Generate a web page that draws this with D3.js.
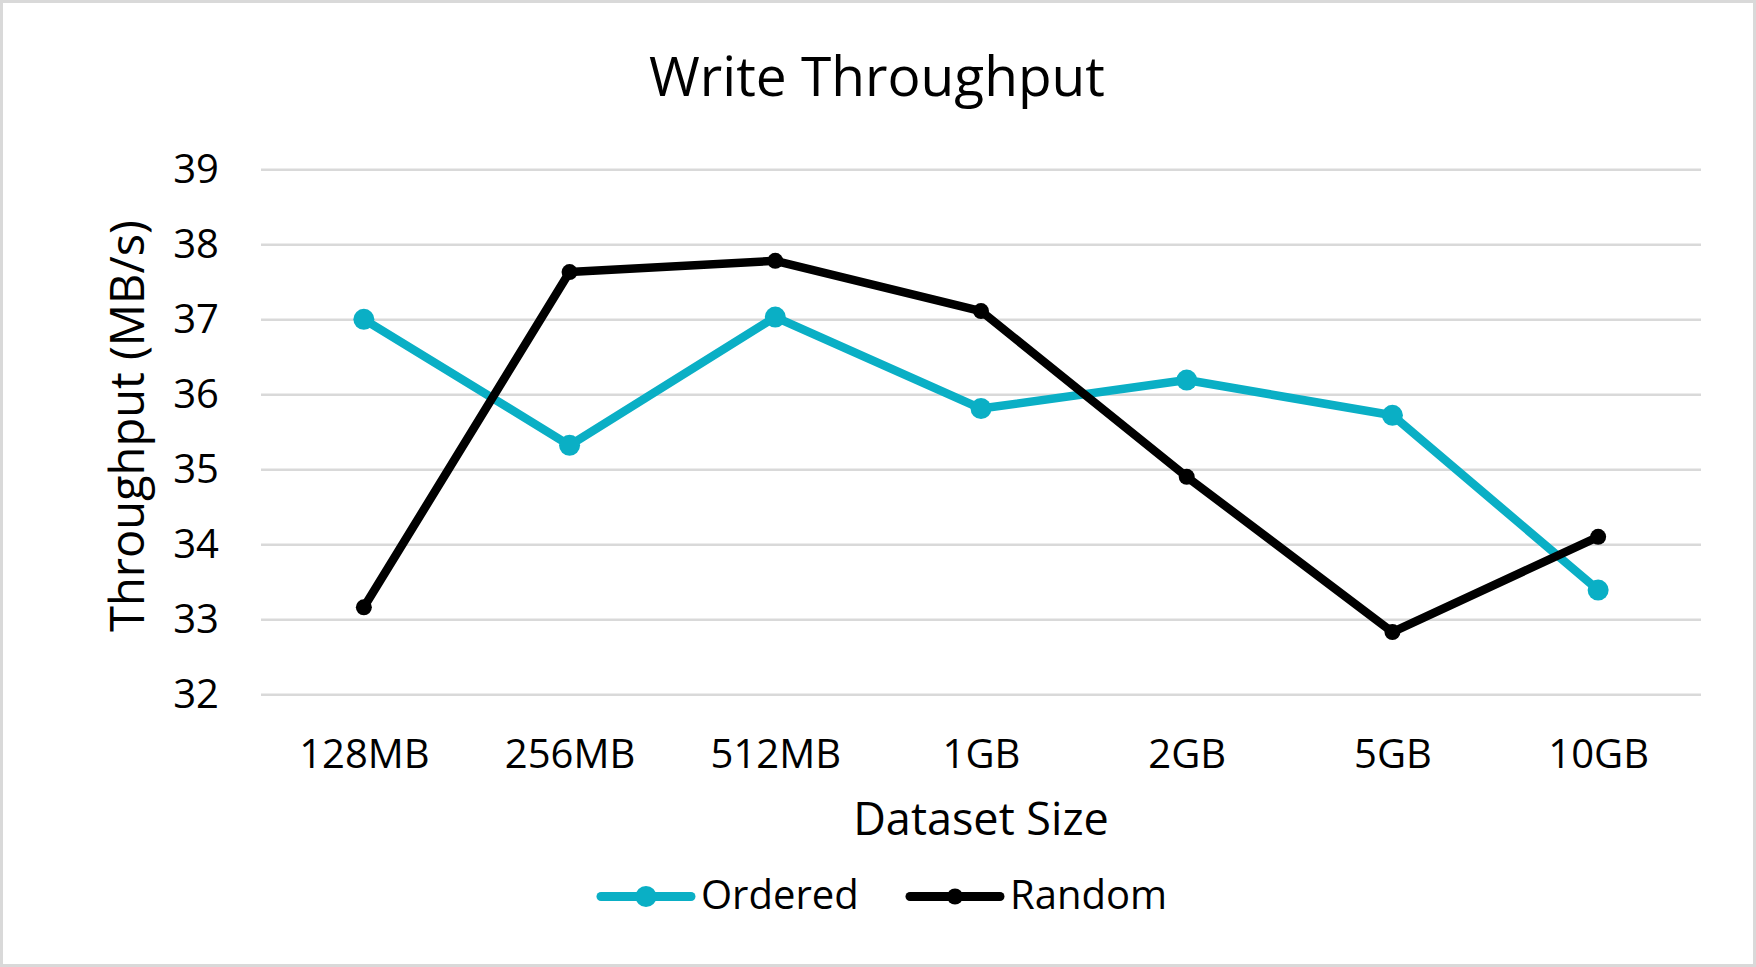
<!DOCTYPE html>
<meta charset="utf-8">
<style>
    html,
    body {
        margin: 0;
        padding: 0;
        background: #fff;
    }

    text {
        font-family: "Open Sans", sans-serif;
        fill: #000;
    }

    .grid line {
        stroke: #d9d9d9;
        stroke-width: 2.5px;
    }
</style>
<svg id="chart" width="1756" height="967"></svg>
<script src="https://d3js.org/d3.v7.min.js"></script>
<script>
    // data
    var sizes = ["128MB", "256MB", "512MB", "1GB", "2GB", "5GB", "10GB"];
    var ordered = [37.0, 35.32, 37.03, 35.81, 36.19, 35.72, 33.39];
    var random = [33.16, 37.63, 37.78, 37.11, 34.90, 32.83, 34.10];
    var yTicks = [32, 33, 34, 35, 36, 37, 38, 39];

    var series = [
        { name: "Ordered", values: ordered, color: "#0aafc5", r: 10.5 },
        { name: "Random", values: random, color: "#000", r: 8 }
    ];

    var svg = d3.select("#chart");

    // outer border
    svg.append("rect")
        .attr("x", 1.5).attr("y", 1.5)
        .attr("width", 1753).attr("height", 964)
        .attr("fill", "#fff")
        .attr("stroke", "#d9d9d9")
        .attr("stroke-width", 3);

    var x = d3.scalePoint().domain(sizes).range([261, 1701]).padding(0.5);
    var y = d3.scaleLinear().domain([32, 39]).range([694.3, 169.3]);

    // gridlines + y labels
    var yAxis = svg.append("g")
        .attr("class", "grid")
        .attr("transform", "translate(261,0)")
        .call(d3.axisLeft(y).tickValues(yTicks).tickSize(-1440).tickPadding(42).tickFormat(d3.format("d")));
    yAxis.select(".domain").remove();
    yAxis.selectAll("text")
        .style("font-size", "40px")
        .attr("font-family", null);

    // x labels
    var xAxis = svg.append("g")
        .attr("transform", "translate(0,694.3)")
        .call(d3.axisBottom(x).tickSize(0).tickPadding(0));
    xAxis.select(".domain").remove();
    xAxis.selectAll("text")
        .attr("dy", null)
        .attr("y", 74)
        .style("font-size", "40px")
        .attr("font-family", null);

    // lines
    var line = d3.line()
        .x(function(d, i) { return x(sizes[i]); })
        .y(function(d) { return y(d); });

    series.forEach(function(s) {
        svg.append("path")
            .datum(s.values)
            .attr("d", line)
            .attr("fill", "none")
            .attr("stroke", s.color)
            .attr("stroke-width", 8.5)
            .attr("stroke-linejoin", "round");

        svg.append("g").selectAll("circle")
            .data(s.values)
            .enter().append("circle")
            .attr("cx", function(d, i) { return x(sizes[i]); })
            .attr("cy", function(d) { return y(d); })
            .attr("r", s.r)
            .attr("fill", s.color);
    });

    // title
    svg.append("text")
        .attr("x", 877).attr("y", 96)
        .attr("text-anchor", "middle")
        .style("font-size", "55px")
        .text("Write Throughput");

    // axis titles
    svg.append("text")
        .attr("x", 981).attr("y", 835)
        .attr("text-anchor", "middle")
        .style("font-size", "45px")
        .text("Dataset Size");

    svg.append("text")
        .attr("transform", "translate(144,426) rotate(-90)")
        .attr("text-anchor", "middle")
        .style("font-size", "47px")
        .text("Throughput (MB/s)");

    // legend
    var legendX = [601, 910];
    var legend = svg.append("g").selectAll("g")
        .data(series)
        .enter().append("g")
        .attr("transform", function(d, i) { return "translate(" + legendX[i] + ",896.5)"; });

    legend.append("line")
        .attr("x1", 0).attr("x2", 90)
        .attr("stroke", function(d) { return d.color; })
        .attr("stroke-width", 9)
        .attr("stroke-linecap", "round");

    legend.append("circle")
        .attr("cx", 45)
        .attr("r", function(d) { return d.r; })
        .attr("fill", function(d) { return d.color; });

    legend.append("text")
        .attr("x", 100)
        .attr("y", 12)
        .style("font-size", "40px")
        .text(function(d) { return d.name; });
</script>
